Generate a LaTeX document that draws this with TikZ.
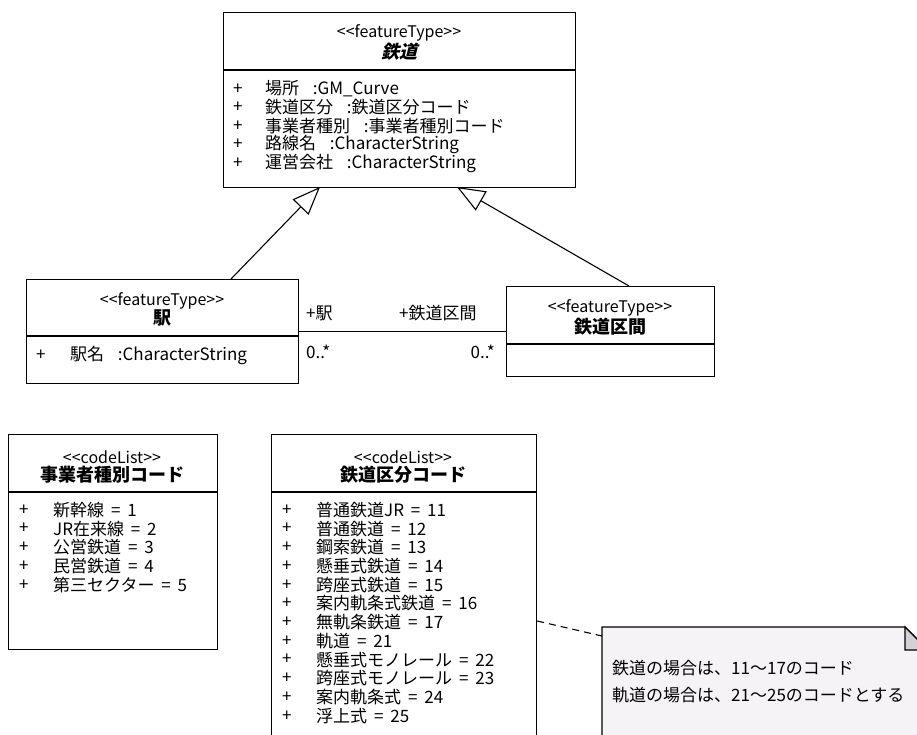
\documentclass[tikz,border=0pt]{standalone}
\usepackage{fontspec}
\setmainfont{Noto Sans CJK JP}[WordSpace=1.8]
\newfontfamily\jpsl{Noto Sans CJK JP}[FakeSlant=0.25, BoldFeatures={FakeSlant=0.25}]
\usetikzlibrary{arrows.meta}
\definecolor{notefill}{HTML}{F6F3F6}
\definecolor{foldfill}{HTML}{D3D0D8}
\newcommand{\stLeft}{<\kern0pt<}
\newcommand{\stRight}{>\kern0pt>}
\tikzset{
  box/.style={draw, line width=1.2pt, fill=white, anchor=north west, inner sep=0pt},
  stereo/.style={font=\fontsize{16}{16}\selectfont, inner sep=0pt},
  cname/.style={font=\fontsize{18}{18}\selectfont\bfseries, inner sep=0pt},
  attr/.style={font=\fontsize{17}{17}\selectfont, inner sep=0pt, anchor=west},
  divider/.style={line width=1.2pt},
  gen/.style={line width=1.1pt, -{Triangle[open, length=28pt, width=22pt, line width=1.1pt]}},
  assoc/.style={line width=1.1pt},
  role/.style={font=\fontsize{17}{17}\selectfont, inner sep=0pt},
  notebody/.style={draw, line width=1.1pt, fill=notefill},
  notefold/.style={draw, line width=1.1pt, fill=foldfill},
  notelink/.style={line width=1.1pt, dash pattern=on 7pt off 5pt},
}
\begin{document}
\begin{tikzpicture}[x=1pt,y=-1pt]
\useasboundingbox (0,0) rectangle (917,734);
\clip (0,0) rectangle (917,734);

% ---- 鉄道 ----
\node[box, minimum width=352pt, minimum height=175pt] (tetsudo) at (223,12) {};
\draw[divider] (tetsudo.west |- 0,70) -- (tetsudo.east |- 0,70);
\node[stereo] (tetsudoS) at (399,33) {\stLeft featureType\stRight};
\node[cname] (tetsudoN) at (399,52) {\jpsl\bfseries 鉄道};
\node[attr] (ta1p) at (233,89) {+};
\node[attr] (ta1) at (265,89) {場所\ \ :GM\_Curve};
\node[attr] (ta2p) at (233,107.5) {+};
\node[attr] (ta2) at (265,107.5) {鉄道区分\ \ :鉄道区分コード};
\node[attr] (ta3p) at (233,126) {+};
\node[attr] (ta3) at (265,126) {事業者種別\ \ :事業者種別コード};
\node[attr] (ta4p) at (233,144.5) {+};
\node[attr] (ta4) at (265,144.5) {路線名\ \ :CharacterString};
\node[attr] (ta5p) at (233,163) {+};
\node[attr] (ta5) at (265,163) {運営会社\ \ :CharacterString};

% ---- 駅 ----
\node[box, minimum width=272pt, minimum height=104pt] (eki) at (26,279) {};
\draw[divider] (eki.west |- 0,336) -- (eki.east |- 0,336);
\node[stereo] (ekiS) at (162,301) {\stLeft featureType\stRight};
\node[cname] (ekiN) at (162,318) {駅};
\node[attr] (ea1p) at (36,355) {+};
\node[attr] (ea1) at (70,355) {駅名\ \ :CharacterString};

% ---- 鉄道区間 ----
\node[box, minimum width=208pt, minimum height=90pt] (kukan) at (506,286) {};
\draw[divider] (kukan.west |- 0,344) -- (kukan.east |- 0,344);
\node[stereo] (kukanS) at (610,308) {\stLeft featureType\stRight};
\node[cname] (kukanN) at (610,327) {鉄道区間};

% ---- generalizations ----
\coordinate (g1s) at (231,279);
\coordinate (g1e) at (320,187);
\coordinate (g2s) at (629,286);
\coordinate (g2e) at (457,187);
\draw[gen] (g1s) -- (g1e);
\draw[gen] (g2s) -- (g2e);

% ---- association ----
\draw[assoc] (eki.east) -- (kukan.west);
\node[role, anchor=west] (r1) at (306,313) {+駅};
\node[role, anchor=west] (r2) at (399,313) {+鉄道区間};
\node[role, anchor=west] (m1) at (306,352) {0..*};
\node[role, anchor=east] (m2) at (495,352) {0..*};

% ---- 事業者種別コード ----
\node[box, minimum width=209pt, minimum height=215pt] (jigyo) at (8,434) {};
\draw[divider] (jigyo.west |- 0,492) -- (jigyo.east |- 0,492);
\node[stereo] (jigyoS) at (112,457) {\stLeft codeList\stRight};
\node[cname] (jigyoN) at (112,475) {事業者種別コード};
\foreach \t [count=\i from 0] in {新幹線 = 1, JR在来線 = 2, 公営鉄道 = 3, 民営鉄道 = 4, 第三セクター = 5}{
  \node[attr] (jp\i) at (19,510+18.7*\i) {+};
  \node[attr] (jt\i) at (53,510+18.7*\i) {\t};
}

% ---- 鉄道区分コード ----
\node[box, minimum width=265pt, minimum height=330pt] (kubun) at (271,434) {};
\draw[divider] (kubun.west |- 0,492) -- (kubun.east |- 0,492);
\node[stereo] (kubunS) at (403,457) {\stLeft codeList\stRight};
\node[cname] (kubunN) at (403,475) {鉄道区分コード};
\foreach \t [count=\i from 0] in {普通鉄道JR = 11, 普通鉄道 = 12, 鋼索鉄道 = 13, 懸垂式鉄道 = 14, 跨座式鉄道 = 15, 案内軌条式鉄道 = 16, 無軌条鉄道 = 17, 軌道 = 21, 懸垂式モノレール = 22, 跨座式モノレール = 23, 案内軌条式 = 24, 浮上式 = 25}{
  \node[attr] (kp\i) at (282,510+18.7*\i) {+};
  \node[attr] (kt\i) at (316,510+18.7*\i) {\t};
}

% ---- note ----
\node[anchor=north west, minimum width=326pt, minimum height=113pt, inner sep=0pt] (note) at (602,627) {};
\draw[notebody] (note.north west) -- (905,627) -- (928,650) -- (note.south east) -- (note.south west) -- cycle;
\draw[notefold] (905,627) -- (905,650) -- (928,650) -- cycle;
\node[attr] (n1) at (612,668) {鉄道の場合は、11～17のコード};
\node[attr] (n2) at (612,695) {軌道の場合は、21～25のコードとする};
\coordinate (nlink) at (602,636);
\draw[notelink] (kubun.east |- 0,621) -- (nlink);
\end{tikzpicture}
\end{document}
